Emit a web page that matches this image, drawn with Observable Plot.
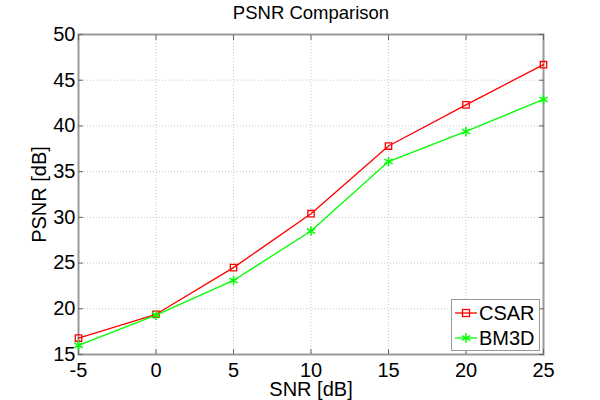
<!DOCTYPE html>
<html><head><meta charset="utf-8">
<script src="https://cdn.jsdelivr.net/npm/d3@7"></script>
<script src="https://cdn.jsdelivr.net/npm/@observablehq/plot@0.6"></script>
<style>
body{margin:0;background:#fff;}
#wrap{position:relative;width:600px;height:400px;font-family:"Liberation Sans",Arial,sans-serif;}
#legend{position:absolute;left:451px;top:299px;width:89px;height:52px;border:1px solid #999;background:#fff;box-sizing:border-box;font-size:20px;}
.row{position:absolute;left:0;height:24px;display:flex;align-items:center;}
</style>
</head><body>
<div id="wrap"></div>
<script>
const snr = [-5, 0, 5, 10, 15, 20, 25];
const csar = [16.8, 19.4, 24.5, 30.4, 37.8, 42.3, 46.7];
const bm3d = [16.0, 19.3, 23.1, 28.5, 36.1, 39.4, 42.9];
const xTicks = [-5, 0, 5, 10, 15, 20, 25];
const yTicks = [15, 20, 25, 30, 35, 40, 45, 50];
const seriesNames = ["CSAR", "BM3D"];
const colors = ["#ff0000", "#00ff00"];

const data = [];
snr.forEach((s, i) => {
  data.push({snr: s, psnr: csar[i], series: "CSAR"});
  data.push({snr: s, psnr: bm3d[i], series: "BM3D"});
});
const dC = data.filter(d => d.series === "CSAR");
const dB = data.filter(d => d.series === "BM3D");

const chart = Plot.plot({
  width: 600, height: 400,
  marginLeft: 78, marginRight: 57, marginTop: 34, marginBottom: 46,
  style: {fontFamily: "Liberation Sans, Arial, sans-serif", fontSize: "20px", color: "#000", background: "#fff"},
  x: {domain: [-5, 25]},
  y: {domain: [15, 50]},
  marks: [
    Plot.gridX(xTicks, {stroke: "#bbb", strokeOpacity: 1, strokeDasharray: "1,2", strokeWidth: 0.8}),
    Plot.gridY(yTicks, {stroke: "#bbb", strokeOpacity: 1, strokeDasharray: "1,2", strokeWidth: 0.8}),
    Plot.frame({stroke: "#999", strokeWidth: 2}),
    Plot.axisX(xTicks, {anchor: "bottom", tickSize: -5, stroke: "#666", tickPadding: 13, fontSize: 20, label: null, tickFormat: d => String(d)}),
    Plot.axisX(xTicks, {anchor: "top", tickSize: -5, stroke: "#666", text: null, label: null}),
    Plot.axisY(yTicks, {anchor: "left", tickSize: -5, stroke: "#666", tickPadding: 8, fontSize: 20, label: null}),
    Plot.axisY(yTicks, {anchor: "right", tickSize: -5, stroke: "#666", text: null, label: null}),
    Plot.line(dC, {x: "snr", y: "psnr", stroke: colors[0], strokeWidth: 1.3}),
    Plot.line(dB, {x: "snr", y: "psnr", stroke: colors[1], strokeWidth: 1.3}),
    Plot.dot(dC, {x: "snr", y: "psnr", symbol: "square", r: 3.6, stroke: colors[0], fill: "none", strokeWidth: 1.3}),
    Plot.dot(dB, {x: "snr", y: "psnr", symbol: "asterisk", r: 4.5, stroke: colors[1], strokeWidth: 1.5}),
    Plot.text(["PSNR Comparison"], {frameAnchor: "top", lineAnchor: "middle", dy: -21, fontSize: 18.5}),
    Plot.text(["SNR [dB]"], {frameAnchor: "bottom", lineAnchor: "middle", dy: 35, fontSize: 20}),
    Plot.text(["PSNR [dB]"], {frameAnchor: "left", textAnchor: "middle", lineAnchor: "middle", dx: -39, rotate: -90, fontSize: 20})
  ]
});
const wrap = document.getElementById("wrap");
wrap.appendChild(chart);

const leg = document.createElement("div");
leg.id = "legend";
seriesNames.forEach((name, i) => {
  const row = document.createElement("div");
  row.className = "row";
  row.style.top = (1 + i * 25) + "px";
  const sym = i === 0
    ? `<svg width="27" height="20"><line x1="3" x2="25" y1="10" y2="10" stroke="${colors[i]}" stroke-width="1.3"/><rect x="10.5" y="6.5" width="7" height="7" fill="none" stroke="${colors[i]}" stroke-width="1.3"/></svg>`
    : `<svg width="27" height="20"><line x1="3" x2="25" y1="10" y2="10" stroke="${colors[i]}" stroke-width="1.3"/><path transform="translate(14,10)" d="${d3.symbol(d3.symbolAsterisk, 60)()}" stroke="${colors[i]}" stroke-width="1.5"/></svg>`;
  row.innerHTML = sym + `<span>${name}</span>`;
  leg.appendChild(row);
});
wrap.appendChild(leg);
</script>
</body></html>
